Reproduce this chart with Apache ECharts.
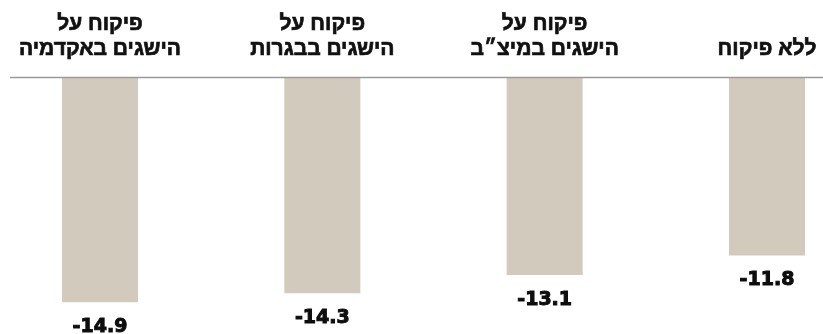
<!DOCTYPE html>
<html>
<head>
<meta charset="utf-8">
<script src="https://cdn.jsdelivr.net/npm/echarts@6/dist/echarts.min.js"></script>
<style>html,body{margin:0;padding:0;background:#fff}#c{width:823px;height:334px}</style>
</head>
<body>
<div id="c"></div>
<script>
// categories in logical (right-to-left) order
const categories = ['ללא פיקוח', 'פיקוח על\nהישגים במיצ״ב', 'פיקוח על\nהישגים בבגרות', 'פיקוח על\nהישגים באקדמיה'];
const values = [-11.8, -13.1, -14.3, -14.9];

const chart = echarts.init(document.getElementById('c'), null, {renderer: 'canvas'});
chart.setOption({
  animation: false,
  backgroundColor: '#ffffff',
  grid: {left: 100, right: 56, top: 77.5, bottom: 15.2},
  xAxis: {
    type: 'category',
    data: categories,
    inverse: true,
    position: 'top',
    boundaryGap: false,
    axisLine: {show: false},
    axisTick: {show: false},
    splitLine: {show: false},
    axisLabel: {
      margin: 16,
      fontFamily: 'Liberation Sans',
      fontWeight: 'bold',
      fontSize: 21,
      lineHeight: 25,
      color: '#111111',
      textBorderColor: '#111111',
      textBorderWidth: 0.7,
      align: 'center',
      interval: 0
    }
  },
  yAxis: {
    type: 'value',
    min: -16,
    max: 0,
    show: false
  },
  series: [{
    type: 'bar',
    data: values,
    barWidth: 76,
    itemStyle: {color: '#d3cabe'},
    label: {
      show: true,
      position: 'bottom',
      distance: 15,
      fontFamily: 'DejaVu Sans',
      fontWeight: 'bold',
      fontSize: 19,
      color: '#0d0d0d',
      textBorderColor: '#0d0d0d',
      textBorderWidth: 1
    }
  }],
  graphic: [{
    type: 'line',
    shape: {x1: 10, y1: 77.5, x2: 823, y2: 77.5},
    style: {stroke: '#9a9a9a', lineWidth: 1.5},
    z: 100
  }]
});
</script>
</body>
</html>
